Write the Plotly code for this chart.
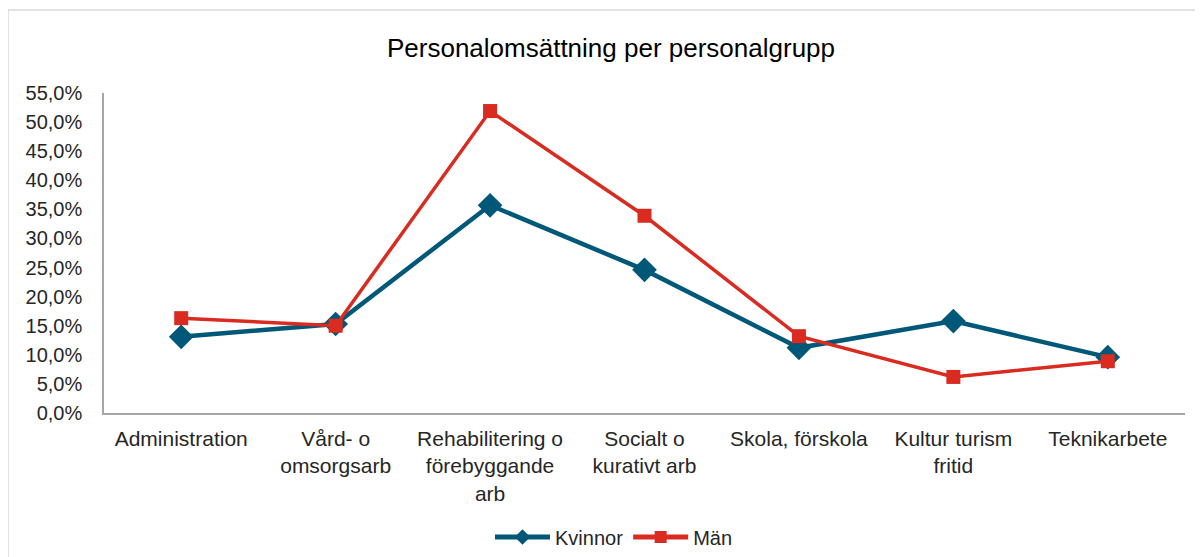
import plotly.graph_objects as go

categories = ["Administration", "Vård- o<br>omsorgsarb", "Rehabilitering o<br>förebyggande<br>arb",
              "Socialt o<br>kurativt arb", "Skola, förskola", "Kultur turism<br>fritid", "Teknikarbete"]
kvinnor = [0.131, 0.153, 0.357, 0.246, 0.112, 0.158, 0.096]
man = [0.163, 0.150, 0.519, 0.339, 0.132, 0.062, 0.089]

fig = go.Figure()
fig.add_trace(go.Scatter(x=categories, y=kvinnor, name="Kvinnor", mode="lines+markers",
                         line=dict(color="#005878", width=4.5),
                         marker=dict(symbol="diamond", size=19, color="#005878")))
fig.add_trace(go.Scatter(x=categories, y=man, name="Män", mode="lines+markers",
                         line=dict(color="#d92b20", width=3.5),
                         marker=dict(symbol="square", size=14, color="#d92b20")))

# page has an 8px body margin; plot area in page coords: x 104..1185, y 93..413
L, T, R, B = 96, 85, 26, 152
PH = 557 - T - B
PW = 1203 - L - R

fig.update_layout(
    width=1203, height=557,
    margin=dict(l=L, r=R, t=T, b=B, autoexpand=False),
    paper_bgcolor="white", plot_bgcolor="white",
    separators=", ",
    font=dict(family="Liberation Sans, Arial", size=20, color="#262626"),
    title=dict(text="Personalomsättning per personalgrupp", x=(611 - 8) / 1203, xanchor="center",
               y=1 - 40 / 557, yanchor="middle", font=dict(size=26, color="#000000")),
    showlegend=True,
    legend=dict(orientation="h", x=(614 - 104) / PW, xanchor="center",
                y=(405 - 529) / PH, yanchor="middle", itemsizing="constant", itemwidth=55,
                font=dict(size=20, color="#262626")),
    xaxis=dict(range=[-0.5, 6.5], showline=True, linecolor="#a6a6a6", linewidth=1.5,
               showgrid=False, ticks="", tickfont=dict(size=21), ticklabelstandoff=6),
    yaxis=dict(range=[0, 0.55], dtick=0.05, tickformat=".1%", showline=True,
               linecolor="#a6a6a6", linewidth=1.5, showgrid=False, ticks="",
               zeroline=False, tickfont=dict(size=20), ticklabelstandoff=16),
    shapes=[dict(type="rect", xref="paper", yref="paper",
                 x0=-L / PW, x1=1.1, y0=-0.6, y1=(PH + T - 2) / PH,
                 line=dict(color="#d9d9d9", width=1.5), fillcolor="rgba(0,0,0,0)", layer="below")],
)

fig.write_html("out.html")
